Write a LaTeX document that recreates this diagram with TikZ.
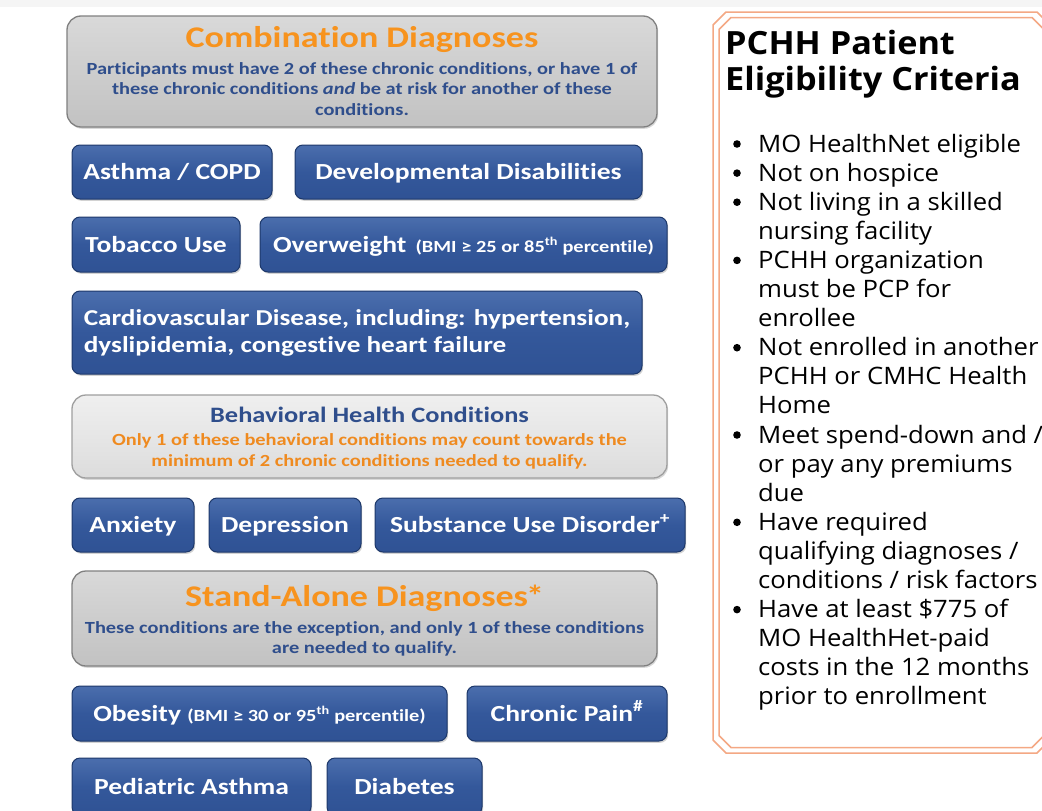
\documentclass[tikz,border=0pt]{standalone}
\usepackage{fontspec}
\setmainfont{Carlito}[FakeStretch=1.2, Ligatures=NoCommon]
\newfontfamily\osans{Open Sans}[FakeStretch=1.07]
\usetikzlibrary{shadows}
\definecolor{bluemid}{HTML}{34589B}
\definecolor{bluetop}{HTML}{4B6EAD}
\definecolor{bluebot}{HTML}{2F5294}
\definecolor{blueedge}{HTML}{1D386A}
\definecolor{graytop}{HTML}{D9D9D9}
\definecolor{graymid}{HTML}{CDCDCD}
\definecolor{graybot}{HTML}{C2C2C2}
\definecolor{grayedge}{HTML}{808080}
\definecolor{lgtop}{HTML}{EFEFEF}
\definecolor{lgmid}{HTML}{E6E6E6}
\definecolor{lgbot}{HTML}{DCDCDC}
\definecolor{orangett}{HTML}{F7931E}
\definecolor{orangesub}{HTML}{EF8A1F}
\definecolor{navytext}{HTML}{2F4E8C}
\definecolor{framecol}{HTML}{F4A884}
\definecolor{topband}{HTML}{F5F5F5}

\newcommand\bmi[1]{{\fontsize{17}{17}\selectfont #1}}

\tikzset{
  condbox/.style={rounded corners=8pt, draw=blueedge, line width=1pt,
    top color=bluetop, bottom color=bluebot, middle color=bluemid,
    text=white, font=\bfseries\fontsize{23}{28}\selectfont, inner sep=0pt,
    drop shadow={shadow xshift=1.2pt, shadow yshift=-1.8pt, opacity=.35}},
  oneline/.style={text height=15pt, text depth=0pt},
  headbox/.style={rounded corners=14pt, draw=grayedge, line width=1.3pt,
    top color=graytop, bottom color=graybot, middle color=graymid,
    drop shadow={shadow xshift=1.2pt, shadow yshift=-1.8pt, opacity=.3}},
  lightbox/.style={headbox, top color=lgtop, bottom color=lgbot, middle color=lgmid, draw=gray!75},
  headtitle/.style={anchor=base, inner sep=0pt, text=orangett, font=\bfseries\fontsize{30}{30}\selectfont},
  headnote/.style={anchor=base, inner sep=0pt, text=navytext, font=\bfseries\fontsize{17}{17}\selectfont},
  behtitle/.style={anchor=base, inner sep=0pt, text=navytext, font=\bfseries\fontsize{22}{22}\selectfont},
  behnote/.style={anchor=base, inner sep=0pt, text=orangesub, font=\bfseries\fontsize{17}{17}\selectfont},
  paneltitle/.style={anchor=base west, inner sep=0pt, font=\osans\bfseries\fontsize{32}{32}\selectfont},
  panelitem/.style={anchor=base west, inner sep=0pt, font=\osans\fontsize{24}{24}\selectfont},
  frameline/.style={draw=framecol, line width=1.5pt}
}

\begin{document}
\begin{tikzpicture}[x=1pt,y=-1pt]
\useasboundingbox (0,0) rectangle (1042,811);
\fill[white] (0,0) rectangle (1042,811);
\fill[topband] (0,0) rectangle (1042,7);

% ---- Combination diagnoses ----
\node[headbox, minimum width=590, minimum height=111] (comb) at (362,71.5) {};
\node[headtitle] (combT) at (362,47) {Combination Diagnoses};
\node[headnote] (combA) at (362,74) {Participants must have 2 of these chronic conditions, or have 1 of};
\node[headnote] (combB) at (362,94.5) {these chronic conditions \textit{and} be at risk for another of these};
\node[headnote] (combC) at (362,115) {conditions.};

\node[condbox, oneline, minimum width=200, minimum height=54] (asthma) at (172,172) {Asthma / COPD};
\node[condbox, oneline, minimum width=347, minimum height=54] (devdis) at (468.5,172) {Developmental Disabilities};
\node[condbox, oneline, minimum width=168, minimum height=55] (tobacco) at (156,244.5) {Tobacco Use};
\node[condbox, oneline, minimum width=407, minimum height=55] (overw) at (463.5,244.5)
  {Overweight\hspace{9pt}\bmi{(BMI ≥ 25 or 85\textsuperscript{th} percentile)}};
\node[condbox, align=left, minimum width=570, minimum height=83,
      font=\bfseries\fontsize{22.7}{27}\selectfont] (cardio) at (357,332.5)
  {Cardiovascular Disease, including: hypertension,\\dyslipidemia, congestive heart failure};

% ---- Behavioral health ----
\node[lightbox, minimum width=595, minimum height=83] (behav) at (369.5,436.5) {};
\node[behtitle] (behT) at (369.5,422) {Behavioral Health Conditions};
\node[behnote] (behA) at (369.5,445.5) {Only 1 of these behavioral conditions may count towards the};
\node[behnote] (behB) at (369.5,466.5) {minimum of 2 chronic conditions needed to qualify.};

\node[condbox, oneline, minimum width=122, minimum height=54] (anx) at (133,525) {Anxiety};
\node[condbox, oneline, minimum width=152, minimum height=54] (dep) at (285,525) {Depression};
\node[condbox, oneline, minimum width=310, minimum height=54] (sud) at (530,525) {Substance Use Disorder\textsuperscript{+}};

% ---- Stand-alone diagnoses ----
\node[headbox, minimum width=585, minimum height=95] (stand) at (364.5,618.5) {};
\node[headtitle] (standT) at (364.5,606.5) {Stand-Alone Diagnoses\kern-2pt*};
\node[headnote] (standA) at (364.5,633) {These conditions are the exception, and only 1 of these conditions};
\node[headnote] (standB) at (364.5,653) {are needed to qualify.};

\node[condbox, oneline, minimum width=375, minimum height=55] (obes) at (259.5,713.5)
  {Obesity \bmi{(BMI ≥ 30 or 95\textsuperscript{th} percentile)}};
\node[condbox, oneline, minimum width=200, minimum height=55] (pain) at (567,713.5) {Chronic Pain\textsuperscript{\#}};
\node[condbox, oneline, minimum width=239, minimum height=57] (pedi) at (191.5,786.5) {Pediatric Asthma};
\node[condbox, oneline, minimum width=155, minimum height=57] (diab) at (404.5,786.5) {Diabetes};

% ---- Eligibility panel with double chamfered frame ----
\draw[frameline]
  (726,12) -- (1037,12) -- (1050,25) -- (1050,740) -- (1037,753)
  -- (726,753) -- (713,740) -- (713,25) -- cycle;
\draw[frameline]
  (731,17.5) -- (1032,17.5) -- (1044,29.5) -- (1044,735.5) -- (1032,747.5)
  -- (731,747.5) -- (719,735.5) -- (719,29.5) -- cycle;

\node[paneltitle] (ptA) at (725,54) {PCHH Patient};
\node[paneltitle] (ptB) at (725,90) {Eligibility Criteria};

\foreach \t [count=\i from 0] in {
  {MO HealthNet eligible}, {Not on hospice}, {Not living in a skilled},
  {nursing facility}, {PCHH organization}, {must be PCP for}, {enrollee},
  {Not enrolled in another}, {PCHH or CMHC Health}, {Home},
  {Meet spend-down and /}, {or pay any premiums}, {due},
  {Have required}, {qualifying diagnoses /}, {conditions / risk factors},
  {Have at least \$775 of}, {MO HealthHet-paid}, {costs in the 12 months},
  {prior to enrollment}}
  \node[panelitem] (line\i) at (758,{152+29.1*\i}) {\t};

\foreach \i in {0,1,2,4,7,10,13,16}
  \fill (737,{152+29.1*\i-8}) circle (3.8);
\end{tikzpicture}
\end{document}
